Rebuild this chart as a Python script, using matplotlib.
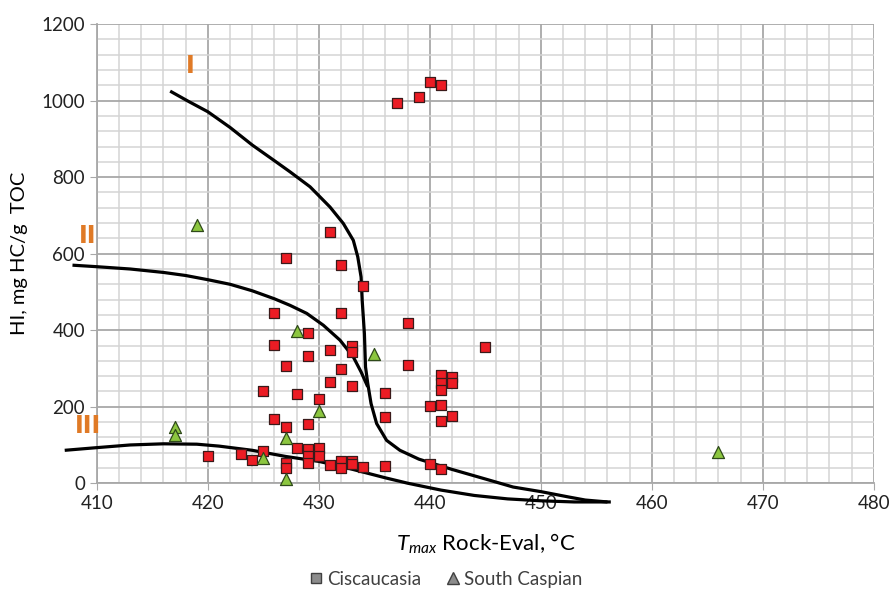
import numpy as np
import matplotlib
matplotlib.use("Agg")
import matplotlib.pyplot as plt
from matplotlib.lines import Line2D

plt.rcParams['font.family'] = ['Lato', 'DejaVu Sans']
plt.rcParams['mathtext.fontset'] = 'custom'
plt.rcParams['mathtext.it'] = 'Lato:italic'
plt.rcParams['mathtext.rm'] = 'Lato'

# Ciscaucasia samples (Tmax, HI)
cis_tmax = [437, 439, 440, 441, 431, 427, 432, 434, 426, 432, 438, 429, 426, 433, 433,
            431, 445, 429, 427, 432, 438, 431, 433, 425, 428, 436, 430, 441, 441, 441,
            442, 442, 440, 441, 442, 441, 436, 426, 427, 429, 420, 423, 424, 425, 427,
            427, 428, 429, 429, 429, 430, 430, 431, 432, 432, 433, 433, 434, 436, 440, 441]
cis_hi = [993, 1010, 1048, 1040, 657, 590, 570, 515, 445, 445, 420, 393, 362, 359, 344,
          347, 355, 332, 307, 298, 310, 265, 254, 241, 234, 236, 219, 282, 263, 243,
          278, 263, 201, 204, 177, 163, 172, 168, 146, 154, 70, 76, 61, 85, 53,
          39, 93, 90, 71, 52, 93, 71, 47, 58, 40, 58, 50, 43, 45, 51, 36]

# South Caspian samples
sc_tmax = [419, 417, 417, 428, 435, 430, 427, 425, 427, 466]
sc_hi = [676, 146, 127, 397, 337, 190, 118, 67, 11, 81]

# kerogen type boundary curves
c1_x = [416.6, 418.2, 420, 422, 424, 426, 427.4, 429.2, 431.0, 432.2, 433.1, 433.5, 433.8,
        433.9, 434.1, 434.2, 434.4, 434.7, 435.2, 436.1, 437.3, 439, 442, 445, 447.5,
        450, 452.5, 454, 456]
c1_y = [1025, 999, 971, 930, 884, 843, 814, 775, 722, 679, 635, 592, 539,
        478, 391, 304, 261, 208, 156, 112, 86, 63, 36, 11, -10,
        -22, -36, -44, -49]
c2_x = [407.8, 410, 413, 416, 418, 420, 422, 424, 426, 427.4, 428.9, 430.4, 431.9, 433.1,
        433.8, 434.4]
c2_y = [570, 566, 560, 551, 543, 532, 520, 503, 482, 465, 444, 413, 374, 330, 291, 252]
c3_x = [407.1, 410, 413, 416, 419, 421, 424, 427, 430, 432, 434, 436, 438, 441, 444, 447,
        450, 453, 456.3]
c3_y = [86, 93, 100, 103, 102, 97, 86, 70, 57, 44, 29, 14, 0, -18, -32, -41,
        -46, -49, -49]

fig = plt.figure(figsize=(8.89, 5.90), dpi=100)
ax = fig.add_axes([0.109, 0.181, 0.874, 0.778])

ax.set_xlim(410, 480)
ax.set_ylim(0, 1200)
ax.set_xticks(np.arange(410, 481, 10))
ax.set_yticks(np.arange(0, 1201, 200))
ax.set_xticks(np.arange(410, 481, 2), minor=True)
ax.set_yticks(np.arange(0, 1201, 40), minor=True)
ax.grid(which='minor', color='#d4d4d4', lw=1.1, zorder=0)
ax.grid(which='major', color='#a8a8a8', lw=1.3, zorder=0)
ax.tick_params(which='minor', length=0)
ax.tick_params(which='major', length=5, color='#a8a8a8', labelsize=13.5, labelcolor='#222222')
ax.set_axisbelow(True)
for s in ['top', 'right']:
    ax.spines[s].set_visible(False)
for s in ['left', 'bottom']:
    ax.spines[s].set_color('#a8a8a8')
    ax.spines[s].set_linewidth(1.3)

for cx, cy in [(c1_x, c1_y), (c2_x, c2_y), (c3_x, c3_y)]:
    ax.plot(cx, cy, color='black', lw=2.3, clip_on=False, zorder=3,
            solid_capstyle='butt', solid_joinstyle='round')

ax.scatter(cis_tmax, cis_hi, marker='s', s=48, c='#ec1c24', edgecolors='#3a1a1a',
           linewidths=0.9, zorder=4, clip_on=False)
ax.scatter(sc_tmax, sc_hi, marker='^', s=75, c='#8cc63f', edgecolors='#2f4a1a',
           linewidths=0.9, zorder=5, clip_on=False)

# kerogen type labels
lab_kw = dict(color='#e07a26', fontsize=17, fontweight='bold', family='DejaVu Sans Condensed',
              ha='center', va='center', clip_on=False)
ax.text(418.4, 1090, 'I', **lab_kw)
ax.text(409.2, 646, 'II', **lab_kw)
ax.text(409.2, 150, 'III', **lab_kw)

ax.set_xlabel(r'$T_{max}$ Rock-Eval, °C', fontsize=16, labelpad=14)
ax.set_ylabel('HI, mg HC/g  TOC', fontsize=14.5, labelpad=10)

handles = [Line2D([], [], marker='s', ls='none', mfc='#8c8c8c', mec='#404040', ms=7),
           Line2D([], [], marker='^', ls='none', mfc='#8c8c8c', mec='#404040', ms=8)]
fig.legend(handles, ['Ciscaucasia', 'South Caspian'], loc='center', ncol=2,
           bbox_to_anchor=(0.5, 0.018), frameon=False, fontsize=13.5,
           handletextpad=0.1, columnspacing=1.2, labelcolor='#404040', handlelength=1.0)

fig.savefig('out.png', dpi=100)
